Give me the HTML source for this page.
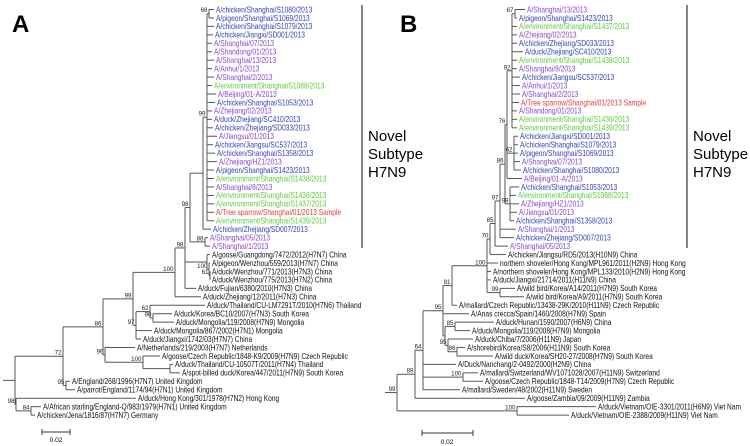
<!DOCTYPE html>
<html><head><meta charset="utf-8"><style>
html,body{margin:0;padding:0;background:#fff;}
svg{display:block;font-family:"Liberation Sans",Arial,sans-serif;}
</style></head><body>
<svg id="fig" width="750" height="446" viewBox="0 0 750 446" xmlns="http://www.w3.org/2000/svg">
<text x="12" y="32" font-size="24" font-weight="bold">A</text>
<text x="400" y="32" font-size="24" font-weight="bold">B</text>
<line x1="362" y1="5" x2="362" y2="248" stroke="#333" stroke-width="1.2"/>
<text x="368" y="141" font-size="15">Novel</text>
<text x="368" y="159" font-size="15">Subtype</text>
<text x="368" y="177" font-size="15">H7N9</text>
<line x1="687" y1="5" x2="687" y2="248" stroke="#333" stroke-width="1.2"/>
<text x="693" y="141" font-size="15">Novel</text>
<text x="693" y="159" font-size="15">Subtype</text>
<text x="693" y="177" font-size="15">H7N9</text>
<g stroke="#333">
<line x1="42" y1="432" x2="70" y2="432"/><line x1="42" y1="429" x2="42" y2="435"/><line x1="70" y1="429" x2="70" y2="435"/>
</g>
<text x="56" y="442" font-size="6.5" text-anchor="middle">0.02</text>
<g stroke="#333">
<line x1="422" y1="433" x2="473" y2="433"/><line x1="422" y1="430" x2="422" y2="436"/><line x1="473" y1="430" x2="473" y2="436"/>
</g>
<text x="447" y="444" font-size="6.5" text-anchor="middle">0.02</text>
</svg>
<script>
const leafTextA = ["A/chicken/Shanghai/S1080/2013","A/pigeon/Shanghai/S1069/2013","A/chicken/Shanghai/S1079/2013","A/chicken/Jiangxi/SD001/2013","A/Shanghai/07/2013","A/Shandong/01/2013","A/Shanghai/13/2013","A/Anhui/1/2013","A/Shanghai/2/2013","A/environment/Shanghai/S1088/2013","A/Beijing/01-A/2013","A/chicken/Shanghai/S1053/2013","A/Zhejiang/02/2013","A/duck/Zhejiang/SC410/2013","A/chicken/Zhejiang/SD033/2013","A/Jiangsu/01/2013","A/chicken/Jiangsu/SC537/2013","A/chicken/Shanghai/S1358/2013","A/Zhejiang/HZ1/2013","A/pigeon/Shanghai/S1423/2013","A/environment/Shanghai/S1438/2013","A/Shanghai/8/2013","A/environment/Shanghai/S1436/2013","A/environment/Shanghai/S1437/2013","A/Tree sparrow/Shanghai/01/2013 Sample","A/environment/Shanghai/S1439/2013","A/chicken/Zhejiang/SD007/2013","A/Shanghai/05/2013","A/Shanghai/1/2013","A/goose/Guangdong/7472/2012(H7N7) China","A/pigeon/Wenzhou/559/2013(H7N7) China","A/duck/Wenzhou/771/2013(H7N3) China","A/duck/Wenzhou/775/2013(H7N2) China","A/duck/Fujian/6380/2010(H7N3) China","A/duck/Zhejiang/12/2011(H7N3) China","A/duck/Thailand/CU-LM7291T/2010(H7N6) Thailand","A/duck/Korea/BC10/2007(H7N3) South Korea","A/duck/Mongolia/119/2008(H7N9) Mongolia","A/duck/Mongolia/867/2002(H7N1) Mongolia","A/duck/Jiangxi/1742/03(H7N7) China","A/Netherlands/219/2003(H7N7) Netherlands","A/goose/Czech Republic/1848-K9/2009(H7N9) Czech Republic","A/duck/Thailand/CU-10507T/2011(H7N4) Thailand","A/spot-billed duck/Korea/447/2011(H7N9) South Korea","A/England/268/1996(H7N7) United Kingdom","A/parrot/England/1174/94(H7N1) United Kingdom","A/duck/Hong Kong/301/1978(H7N2) Hong Kong","A/African starling/England-Q/983/1979(H7N1) United Kingdom","A/chicken/Jena/1816/87(H7N7) Germany"];
const leafColorA = "bbbbpppppgpbpbbpbbpbgpggrgbppkkkkkkkkkkkkkkkkkkkk";
const leafXA = [216,216,216,215,214,214,216,214,216,214,218,217,214,214,215,219,215,217,219,216,216,216,216,216,216,216,213,210,212,212,212,212,212,198,203,207,174,176,154,143,137,162,175,182,72,77,138,43,37];

const leafTextB = ["A/Shanghai/13/2013","A/pigeon/Shanghai/S1423/2013","A/environment/Shanghai/S1437/2013","A/Zhejiang/02/2013","A/chicken/Zhejiang/SD033/2013","A/duck/Zhejiang/SC410/2013","A/environment/Shanghai/S1438/2013","A/Shanghai/8/2013","A/chicken/Jiangsu/SC537/2013","A/Anhui/1/2013","A/Shanghai/2/2013","A/Tree sparrow/Shanghai/01/2013 Sample","A/Shandong/01/2013","A/environment/Shanghai/S1436/2013","A/environment/Shanghai/S1439/2013","A/chicken/Jiangxi/SD001/2013","A/chicken/Shanghai/S1079/2013","A/pigeon/Shanghai/S1069/2013","A/Shanghai/07/2013","A/chicken/Shanghai/S1080/2013","A/Beijing/01-A/2013","A/chicken/Shanghai/S1053/2013","A/environment/Shanghai/S1088/2013","A/Zhejiang/HZ1/2013","A/Jiangsu/01/2013","A/chicken/Shanghai/S1358/2013","A/Shanghai/1/2013","A/chicken/Zhejiang/SD007/2013","A/Shanghai/05/2013","A/chicken/Jiangsu/RD5/2013(H10N9) China","northern shoveler/Hong Kong/MPL961/2011(H2N9) Hong Kong","A/northern shoveler/Hong Kong/MPL133/2010(H2N9) Hong Kong","A/duck/Jiangxi/21714/2011(H11N9) China","A/wild bird/Korea/A14/2011(H7N9) South Korea","A/wild bird/Korea/A9/2011(H7N9) South Korea","A/mallard/Czech Republic/13438-29K/2010(H11N9) Czech Republic","A/Anas crecca/Spain/1460/2008(H7N9) Spain","A/duck/Hunan/1590/2007(H6N9) China","A/duck/Mongolia/119/2008(H7N9) Mongolia","A/duck/Chiba/7/2006(H11N9) Japan","A/shorebird/Korea/S8/2006(H11N9) South Korea","A/wild duck/Korea/SH20-27/2008(H7N9) South Korea","A/Duck/Nanchang/2-0492/2000(H2N9) China","A/mallard/Switzerland/WV1071028/2007(H11N9) Switzerland","A/goose/Czech Republic/1848-T14/2009(H7N9) Czech Republic","A/mallard/Sweden/48/2002(H11N9) Sweden","A/goose/Zambia/09/2009(H11N9) Zambia","A/duck/Vietnam/OIE-3301/2011(H6N9) Viet Nam","A/duck/Vietnam/OIE-2388/2009(H11N9) Viet Nam"];
const leafColorB = "pbgpbbgpbpprpggbbbpbpbgppbpbpkkkkkkkkkkkkkkkkkkkk";
const leafXB = [527,519,519,519,519,525,519,519,522,522,522,521,519,519,519,520,520,520,522,523,524,521,518,521,519,516,518,516,510,508,500,493,493,517,526,459,471,496,472,475,467,495,458,480,485,462,527,598,571];

const rng=(a,b)=>{const r=[];for(let i=a;i<=b;i++)r.push(i);return r;};
const treeA={x:15,c:[
 {x:63,bs:72,c:[
   {x:103,bs:86,c:[
     {x:133,bs:99,c:[
       {x:175,bs:100,c:[
         {x:185,bs:98,c:[
           {x:190,bs:98,c:[
             {x:203,c:[{x:207,bs:99,c:[{x:209,bs:68,c:[0,1]}].concat(rng(2,25))},26]},
             {x:205,bs:88,c:[27,28]}]},
           {x:207,c:[29,{x:209,bs:100,c:[30,{x:210,bs:61,c:[31,32]}]}]},
           33]},
         34]},
       {x:136,bs:97,c:[{x:150,bs:62,c:[35,{x:153,bs:90,c:[36,37]}]},38,39]}]},
     {x:105,bs:96,c:[40,{x:143,bs:100,c:[41,{x:170,c:[42,43]}]}]}]},
   {x:66,bs:95,c:[44,45]}]},
 {x:16,bs:98,c:[46,{x:31,bs:84,c:[47,48]}]}]};
const treeB={x:397,bs:99,c:[
 {x:415,bs:88,c:[
   {x:423,bs:64,c:[
     {x:443,bs:95,c:[
       {x:452,bs:81,c:[
         {x:487,bs:100,c:[
           {x:490,bs:70,c:[
             {x:495,bs:85,c:[
               {x:500,bs:97,c:[
                 {x:505,bs:86,c:[
                   {x:507,bs:76,c:[
                     {x:512,bs:92,c:[{x:515,bs:67,c:[0,1]}].concat(rng(2,14))},
                     {x:514,bs:62,c:rng(15,19)},20]},
                   {x:510,bs:99,c:rng(21,25)}]},
                 26,27]},
               28]},
             29]},
           30,31,32,{x:500,bs:99,c:[33,34]}]},
         35]},
       36,
       {x:445,c:[{x:455,bs:85,c:[37,38]},{x:448,bs:95,c:[39,{x:457,bs:86,c:[40,41]}]}]}]},
     42,{x:463,bs:100,c:[43,44]},45]},
   46]},
 {x:517,bs:100,c:[47,48]}]};

const svg=document.getElementById('fig');
const NS='http://www.w3.org/2000/svg';
const y0=9.5, dy=8.45;
const yOf=i=>y0+dy*i;
const COL={b:'#3341b5',p:'#8c45d6',g:'#5ccc3c',r:'#e83a3a',k:'#111'};
function mk(tag,attrs){const e=document.createElementNS(NS,tag);for(const k in attrs)e.setAttribute(k,attrs[k]);svg.appendChild(e);return e;}
function line(x1,y1,x2,y2){
 const l=mk('line',{x1,y1,x2,y2,stroke:'#555','stroke-width':1});
 
 
}
function layout(n,xs){
 if(typeof n==='number') return {y:yOf(n),x:xs[n]-2};
 const ys=n.c.map(ch=>layout(ch,xs));
 n.y=(ys[0].y+ys[ys.length-1].y)/2;
 line(n.x,ys[0].y,n.x,ys[ys.length-1].y);
 ys.forEach(p=>line(n.x,p.y,p.x,p.y));
 if(n.bs!==undefined){
  const t=mk('text',{x:n.x-1.5,y:n.y-1.5,'font-size':6.2,'text-anchor':'end',fill:'#222'});
  t.textContent=n.bs;
  
  
 }
 return {y:n.y,x:n.x};
}
function leaves(texts,cols,xs,panel){
 texts.forEach((s,i)=>{
  const t=mk('text',{transform:`translate(${xs[i]},${yOf(i)+2.8}) scale(0.83,1)`,'font-size':8,fill:COL[cols[i]]});
  t.textContent=s;
  
  
 });
}
const ra=layout(treeA,leafXA); line(3,ra.y,treeA.x,ra.y);
const rb=layout(treeB,leafXB); line(385,rb.y,treeB.x,rb.y);
leaves(leafTextA,leafColorA,leafXA,'panel-a');
leaves(leafTextB,leafColorB,leafXB,'panel-b');
</script>
</body></html>
